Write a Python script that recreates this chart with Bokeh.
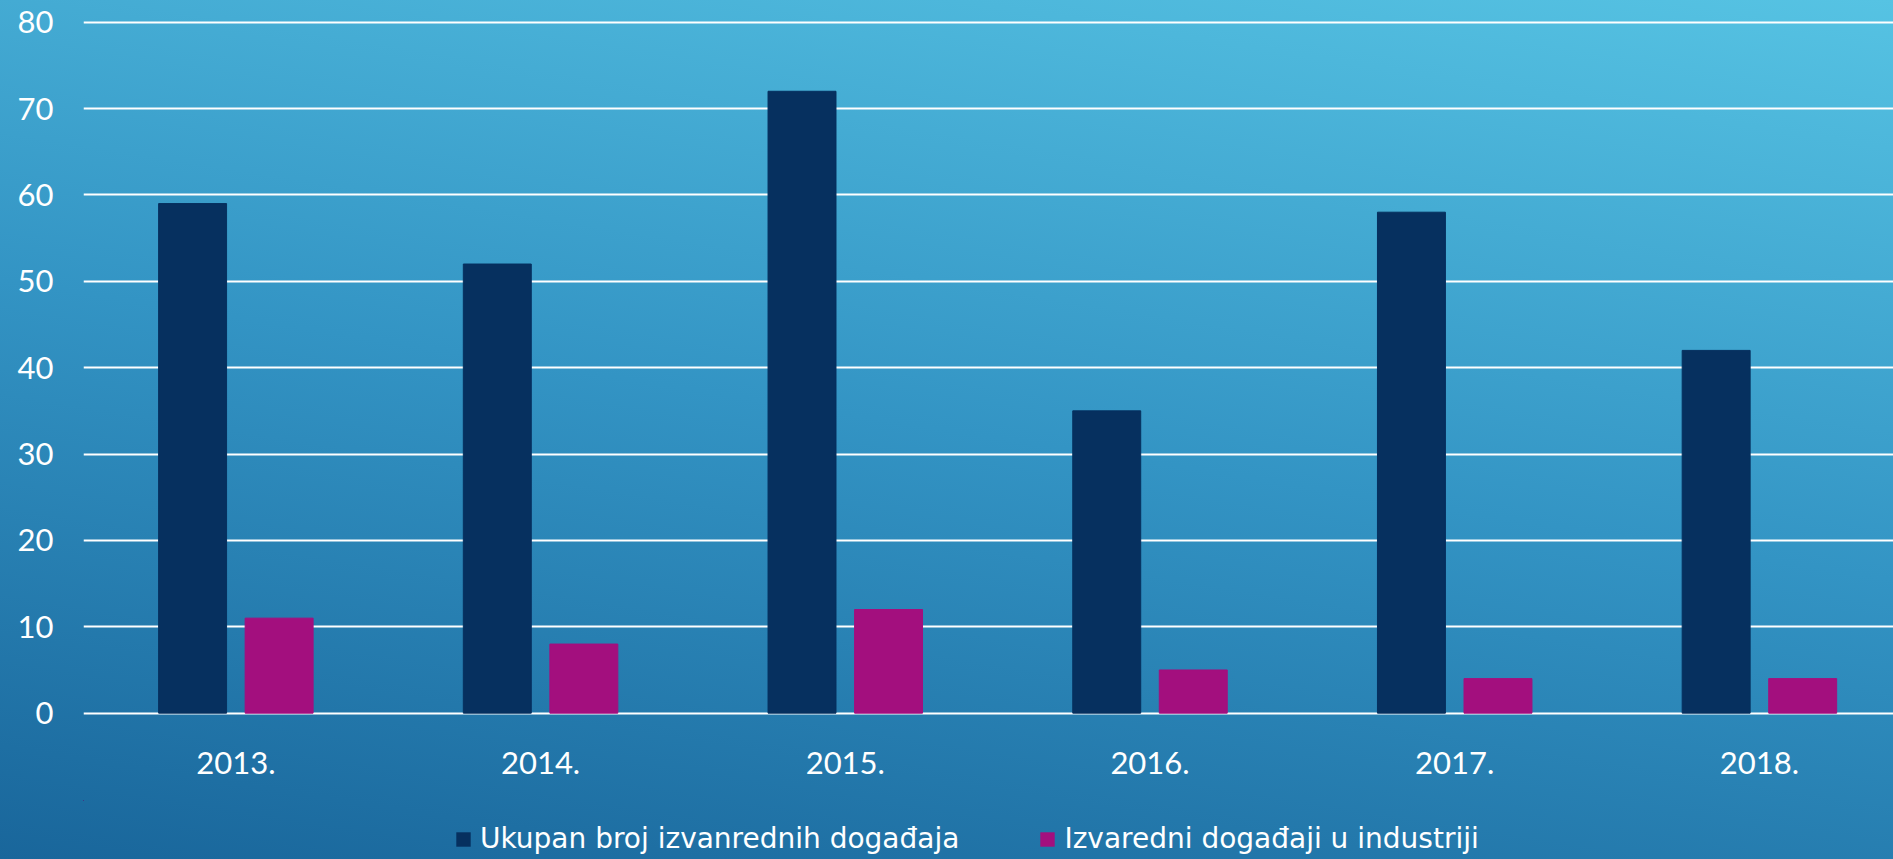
from bokeh.plotting import figure
from bokeh.models import Range1d, FixedTicker, Legend, LegendItem, ColumnDataSource
from bokeh.transform import dodge
from bokeh.layouts import column
from bokeh.embed import file_html
from bokeh.resources import INLINE

years = ["2013.", "2014.", "2015.", "2016.", "2017.", "2018."]
ukupan = [59, 52, 72, 35, 58, 42]
industrija = [11, 8, 12, 5, 4, 4]
series_names = ["Ukupan broj izvanrednih događaja", "Izvaredni događaji u industriji"]
series_colors = ["#06305F", "#A30F7E"]
y_ticks = [0, 10, 20, 30, 40, 50, 60, 70, 80]

xpos = [i + 0.5 for i in range(len(years))]
src = ColumnDataSource(dict(x=xpos, u=ukupan, ind=industrija))

# ---- main chart ----
p = figure(width=1893, height=800, output_backend="svg", toolbar_location=None,
           x_range=Range1d(0, 5.94), y_range=Range1d(-0.85, 82.51),
           min_border_left=83, min_border_right=0, min_border_top=0,
           min_border_bottom=80)
p.background_fill_alpha = 0
p.border_fill_alpha = 0
p.outline_line_color = None

r1 = p.vbar(x=dodge("x", -0.142, range=p.x_range), top="u", bottom=0, width=0.223,
            source=src, fill_color=series_colors[0], line_color=series_colors[0])
r2 = p.vbar(x=dodge("x", 0.142, range=p.x_range), top="ind", bottom=0, width=0.223,
            source=src, fill_color=series_colors[1], line_color=series_colors[1])

p.xaxis.ticker = FixedTicker(ticks=xpos)
p.xaxis.major_label_overrides = {x: y for x, y in zip(xpos, years)}
p.yaxis.ticker = FixedTicker(ticks=y_ticks)
for ax in (p.xaxis, p.yaxis):
    ax.axis_line_color = None
    ax.major_tick_line_color = None
    ax.major_tick_out = 0
    ax.major_tick_in = 0
    ax.minor_tick_line_color = None
    ax.minor_tick_out = 0
    ax.major_label_text_color = "white"
    ax.major_label_text_font = "Lato"
    ax.major_label_text_font_size = "31px"
p.yaxis.major_label_standoff = 30
p.xaxis.major_label_standoff = 31

p.xgrid.visible = False
p.ygrid.ticker = FixedTicker(ticks=y_ticks)
p.ygrid.grid_line_color = "white"
p.ygrid.grid_line_width = 2

# ---- legend strip (its bars lie outside its view; only the legend shows) ----
q = figure(width=1893, height=59, output_backend="svg", toolbar_location=None,
           x_range=Range1d(1000, 1001), y_range=Range1d(-1000, -999),
           x_axis_location=None, y_axis_location=None, min_border=0)
q.background_fill_alpha = 0
q.border_fill_alpha = 0
q.outline_line_color = None
q.grid.visible = False
l1 = q.vbar(x="x", top="u", bottom=0, width=0.2, source=src,
            fill_color=series_colors[0], line_color=None)
l2 = q.vbar(x="x", top="ind", bottom=0, width=0.2, source=src,
            fill_color=series_colors[1], line_color=None)

legend = Legend(items=[LegendItem(label=series_names[0], renderers=[l1]),
                       LegendItem(label=series_names[1], renderers=[l2])],
                location=(371, 4), orientation="horizontal",
                padding=0, margin=0, spacing=79,
                glyph_width=18, glyph_height=18, label_standoff=8,
                label_text_font="DejaVu Sans", label_text_font_size="28px",
                label_text_color="white", border_line_color=None,
                background_fill_alpha=0)
q.add_layout(legend, "center")

layout = column(p, q, spacing=0)
layout.styles = {"background": "linear-gradient(9deg, #19669B 0%, #3394C4 50%, #56C3E3 100%)"}

open("out.html", "w").write(file_html(layout, INLINE))
